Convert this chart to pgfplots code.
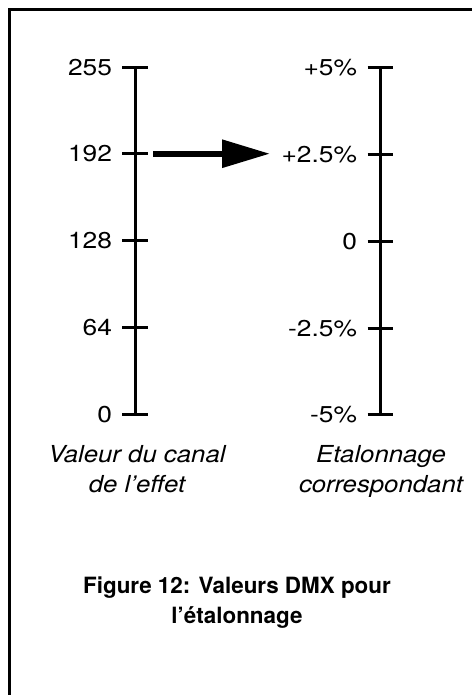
\documentclass[border=0pt]{standalone}
\usepackage{fontspec}
\setmainfont{TeX Gyre Heros}
\newfontfamily\tickfont[FakeStretch=1.15]{TeX Gyre Heros}
\newfontfamily\titlefont[FakeStretch=1.1]{TeX Gyre Heros}
\usepackage{pgfplots}
\pgfplotsset{compat=1.18}
\usetikzlibrary{arrows.meta}

\begin{document}
\begin{tikzpicture}
\pgfplotsset{
 scaleaxis/.style={scale only axis, height=347bp, axis x line=none, axis y line=left,
   axis line style={line width=3bp, -}, tick align=center, major tick length=25bp,
   tick style={line width=3bp, black},
   yticklabel style={font=\tickfont\fontsize{23}{23}\selectfont, anchor=east, xshift=-7bp},
   clip=false}
}
\begin{axis}[scaleaxis, at={(135bp,280bp)}, anchor=south west, width=245bp,
  xmin=0, xmax=245, ymin=0, ymax=255,
  ytick={0,64,128,192,255}, yticklabels={0,64,128,192,255}]
\addplot[black, line width=6bp, -{Triangle[length=48bp,width=27bp]}] coordinates {(18,192) (135,192)};
\end{axis}
\begin{axis}[scaleaxis, at={(380bp,280bp)}, anchor=south west, width=50bp,
  xmin=0, xmax=50, ymin=-5, ymax=5,
  ytick={-5,-2.5,0,2.5,5}, yticklabels={-5\%,-2.5\%,0,+2.5\%,+5\%}]
\end{axis}
\tikzset{ttl/.style={font=\titlefont\itshape\fontsize{23.5}{26}\selectfont, anchor=base}}
\node[ttl] at (137bp,232bp) {Valeur du canal};
\node[ttl] at (137bp,202bp) {de l’effet};
\node[ttl] at (381bp,232bp) {Etalonnage};
\node[ttl] at (381bp,202bp) {correspondant};
\tikzset{figcap/.style={font=\bfseries\fontsize{22.5}{29}\selectfont, anchor=base}}
\node[figcap] at (237bp,101bp) {Figure 12: Valeurs DMX pour};
\node[figcap] at (237bp,71bp) {l’étalonnage};
\draw[line width=2.6bp] (9.7bp,0) -- (9.7bp,685.7bp) -- (472bp,685.7bp);
\pgfresetboundingbox
\useasboundingbox (0,0) rectangle (472bp,695bp);
\end{tikzpicture}
\end{document}
